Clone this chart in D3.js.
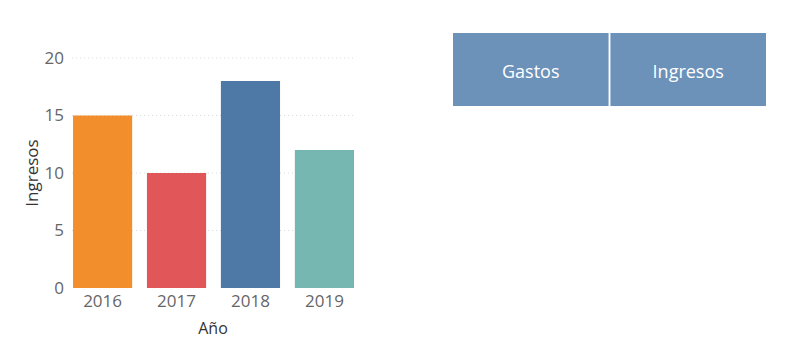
<!DOCTYPE html>
<html>
<head>
<meta charset="utf-8">
<script src="https://cdn.jsdelivr.net/npm/d3@7"></script>
<style>
  body { margin: 0; background: #fff; font-family: "Open Sans", sans-serif; }
</style>
</head>
<body>
<div id="chart"></div>
<script>
var years = ["2016", "2017", "2018", "2019"];
var ingresos = [15, 10, 18, 12];
var barColors = ["#F28E2B", "#E15759", "#4E79A7", "#76B7B2"];
var yTicks = [0, 5, 10, 15, 20];
var buttons = ["Gastos", "Ingresos"];

var svg = d3.select("#chart").append("svg")
    .attr("width", 800)
    .attr("height", 354);

var x = d3.scaleBand()
    .domain(years)
    .range([73, 354])
    .paddingInner(0.2)
    .paddingOuter(0);

var y = d3.scaleLinear()
    .domain([0, 20])
    .range([288, 58]);

// gridlines
svg.append("g")
  .selectAll("line")
    .data(yTicks.filter(function(d) { return d > 0; }))
  .enter().append("line")
    .attr("x1", 72)
    .attr("x2", 356)
    .attr("y1", function(d) { return y(d); })
    .attr("y2", function(d) { return y(d); })
    .attr("stroke", "#ddd")
    .attr("stroke-dasharray", "1,3");

// y axis
var yAxis = d3.axisLeft(y).tickValues(yTicks).tickSize(0).tickPadding(8);
var gy = svg.append("g")
    .attr("transform", "translate(72,0)")
    .call(yAxis);
gy.select(".domain").remove();
gy.selectAll("text")
    .attr("fill", "#666")
    .style("font-size", "17px")
    .style("font-family", "'Open Sans', sans-serif");

// x axis
var xAxis = d3.axisBottom(x).tickSize(0).tickPadding(7);
var gx = svg.append("g")
    .attr("transform", "translate(0,288)")
    .call(xAxis);
gx.select(".domain").remove();
gx.selectAll("text")
    .attr("fill", "#666")
    .style("font-size", "17px")
    .style("font-family", "'Open Sans', sans-serif");

// bars
svg.selectAll("rect.bar")
    .data(ingresos)
  .enter().append("rect")
    .attr("class", "bar")
    .attr("x", function(d, i) { return x(years[i]); })
    .attr("width", x.bandwidth())
    .attr("y", function(d) { return y(d); })
    .attr("height", function(d) { return y(0) - y(d); })
    .attr("fill", function(d, i) { return barColors[i]; });

// axis titles
svg.append("text")
    .attr("x", 213)
    .attr("y", 334)
    .attr("text-anchor", "middle")
    .attr("fill", "#333")
    .style("font-size", "16px")
    .text("Año");

svg.append("text")
    .attr("transform", "translate(38,173) rotate(-90)")
    .attr("text-anchor", "middle")
    .attr("fill", "#333")
    .style("font-size", "17px")
    .text("Ingresos");

// slicer buttons
var bx = d3.scaleBand()
    .domain(buttons)
    .range([453, 766])
    .paddingInner(0.012);

var btn = svg.selectAll("g.btn")
    .data(buttons)
  .enter().append("g")
    .attr("class", "btn");
btn.append("rect")
    .attr("x", function(d) { return bx(d); })
    .attr("y", 33)
    .attr("width", bx.bandwidth())
    .attr("height", 73)
    .attr("fill", "#6C92BA");
btn.append("text")
    .attr("x", function(d) { return bx(d) + bx.bandwidth() / 2; })
    .attr("y", 78)
    .attr("text-anchor", "middle")
    .attr("fill", "#fff")
    .style("font-size", "18px")
    .text(function(d) { return d; });
</script>
</body>
</html>
